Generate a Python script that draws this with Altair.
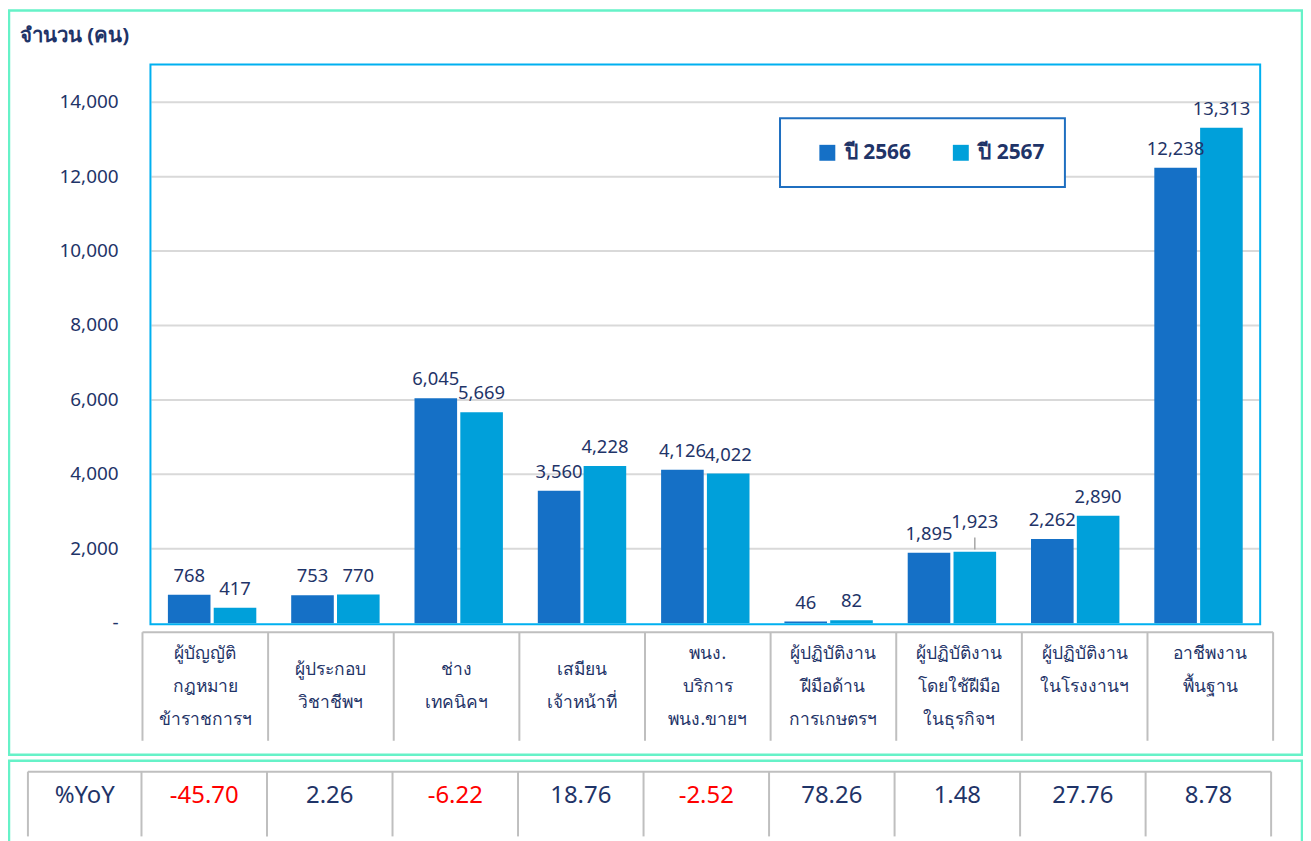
import altair as alt
import pandas as pd

# ---------------- data ----------------
categories = [
    "ผู้บัญญัติ\nกฎหมาย\nข้าราชการฯ",
    "ผู้ประกอบ\nวิชาชีพฯ",
    "ช่าง\nเทคนิคฯ",
    "เสมียน\nเจ้าหน้าที่",
    "พนง.\nบริการ\nพนง.ขายฯ",
    "ผู้ปฏิบัติงาน\nฝีมือด้าน\nการเกษตรฯ",
    "ผู้ปฏิบัติงาน\nโดยใช้ฝีมือ\nในธุรกิจฯ",
    "ผู้ปฏิบัติงาน\nในโรงงานฯ\n",
    "อาชีพงาน\nพื้นฐาน\n",
]
years = ["ปี 2566", "ปี 2567"]
values_2566 = [768, 753, 6045, 3560, 4126, 46, 1895, 2262, 12238]
values_2567 = [417, 770, 5669, 4228, 4022, 82, 1923, 2890, 13313]
yoy_pct = [-45.70, 2.26, -6.22, 18.76, -2.52, 78.26, 1.48, 27.76, 8.78]
y_ticks = [0, 2000, 4000, 6000, 8000, 10000, 12000, 14000]
title_text = "จำนวน (คน)"
yoy_header = "%YoY"

# ---------------- style / layout ----------------
NAVY = "#1f3468"
C2566 = "#1570c6"
C2567 = "#00a0da"
GREEN = "#66f2c8"
FRAME_BLUE = "#00b0f0"
LEGEND_BLUE = "#1f6fc0"
GRID = "#d9d9d9"
TABLE = "#bfbfbf"
RED = "#ff0000"
FONT = "Tahoma, 'Noto Sans', 'DejaVu Sans', sans-serif"

W, H = 1300, 833
PLOT_L, PLOT_R, PLOT_T, PLOT_B = 143, 1257, 55, 617
Y_RANGE = [616, 55.6]
TAB_L, TAB_R, TAB_T, TAB_B = 135, 1270, 625, 734
YOY_L, YOY_T, YOY_B = 20, 765, 830
LIFT = (6, 1)  # label moved up with a leader line (category index, year index)

rows = []
for i, c in enumerate(categories):
    rows.append({"i": i, "cat": c, "year": years[0], "value": values_2566[i]})
    rows.append({"i": i, "cat": c, "year": years[1], "value": values_2567[i]})
bars_df = pd.DataFrame(rows)
cat_df = pd.DataFrame({"i": list(range(len(categories))), "cat": categories, "yoy": yoy_pct})
tick_df = pd.DataFrame({"v": y_ticks})
one = pd.DataFrame({"k": [0]})

yscale = alt.Scale(domain=[0, 15000], range=Y_RANGE, nice=False, zero=True)


def box(x1, x2, y1, y2, color, width, fill_opacity=0, fill="white"):
    return alt.Chart(one).mark_rect(
        fill=fill, fillOpacity=fill_opacity, stroke=color, strokeWidth=width
    ).encode(x=alt.value(x1), x2=alt.value(x2), y=alt.value(y1), y2=alt.value(y2))


def hline(x1, x2, y, color, width):
    return alt.Chart(one).mark_rule(color=color, strokeWidth=width).encode(
        x=alt.value(x1), x2=alt.value(x2), y=alt.value(y)
    )


# frames
frame1 = box(1, W - 1, 1, 748, GREEN, 2.5)
frame2 = box(1, W - 1, 754, 900, GREEN, 2.5)
plot_frame = box(PLOT_L, PLOT_R, PLOT_T, PLOT_B, FRAME_BLUE, 2)

# gridlines
grid = alt.Chart(tick_df).transform_filter("datum.v > 0").mark_rule(
    color=GRID, strokeWidth=2
).encode(
    y=alt.Y("v:Q", scale=yscale, axis=None),
    x=alt.value(PLOT_L + 1),
    x2=alt.value(PLOT_R - 1),
)

# y labels
ylabels = alt.Chart(tick_df).transform_calculate(
    lbl="datum.v == 0 ? '-' : format(datum.v, ',')"
).mark_text(
    align="right", baseline="middle", font=FONT, fontSize=19, color=NAVY
).encode(
    x=alt.value(111), y=alt.Y("v:Q", scale=yscale, axis=None), text="lbl:N"
)

title = alt.Chart(one).mark_text(
    text=title_text, align="left", baseline="middle", font=FONT,
    fontSize=20.5, fontWeight="bold", color=NAVY,
).encode(x=alt.value(12), y=alt.value(27))

# bars
xb = alt.X(
    "cat:N", sort=categories, axis=None,
    scale=alt.Scale(domain=categories, range=[PLOT_L, PLOT_R],
                    paddingInner=0.283, paddingOuter=0.1415),
)
xo = alt.XOffset("year:N", sort=years,
                 scale=alt.Scale(domain=years, paddingInner=0.07, paddingOuter=0))
yb = alt.Y("value:Q", scale=yscale, axis=None)

base = alt.Chart(bars_df)
bars = base.mark_bar().encode(
    x=xb, xOffset=xo, y=yb,
    color=alt.Color(
        "year:N", sort=years,
        scale=alt.Scale(domain=years, range=[C2566, C2567]),
        legend=alt.Legend(
            orient="none", legendX=812, legendY=133, direction="horizontal",
            title=None, symbolType="square", symbolSize=256, symbolStrokeWidth=0,
            labelFont=FONT, labelFontSize=21, labelFontWeight="bold",
            labelColor=NAVY, labelOffset=7, columnPadding=39, padding=0,
        ),
    ),
)
lift_expr = f"datum.i == {LIFT[0]} && datum.year == '{years[LIFT[1]]}'"
labels = base.transform_filter(f"!({lift_expr})").mark_text(
    dy=-19, baseline="middle", font=FONT, fontSize=18.5, color=NAVY
).encode(x=xb, xOffset=xo, y=yb, text=alt.Text("value:Q", format=","))
lifted = base.transform_filter(lift_expr).mark_text(
    dy=-30, baseline="middle", font=FONT, fontSize=18.5, color=NAVY
).encode(x=xb, xOffset=xo, y=yb, text=alt.Text("value:Q", format=","))
leader = base.transform_filter(lift_expr).transform_calculate(
    ly1="datum.value + 60", ly2="datum.value + 380"
).mark_rule(color="#a6a6a6", strokeWidth=1.5).encode(
    x=xb, xOffset=xo,
    y=alt.Y("ly1:Q", scale=yscale, axis=None), y2="ly2:Q",
)
bar_group = alt.layer(bars, labels, lifted, leader)

legend_box = box(775, 1061, 109, 178, LEGEND_BLUE, 2, fill_opacity=1)

# category table
def xt(pos):
    return alt.X(
        "cat:N", sort=categories, axis=None, bandPosition=pos,
        scale=alt.Scale(domain=categories, range=[TAB_L, TAB_R],
                        paddingInner=0, paddingOuter=0),
    )

tab_top = hline(TAB_L, TAB_R, TAB_T, TABLE, 2)
tab_v = alt.Chart(cat_df).mark_rule(color=TABLE, strokeWidth=2).encode(
    x=xt(0), y=alt.value(TAB_T), y2=alt.value(TAB_B)
)
tab_v_end = alt.Chart(cat_df).transform_filter(f"datum.i == {len(categories)-1}").mark_rule(
    color=TABLE, strokeWidth=2
).encode(x=xt(1), y=alt.value(TAB_T), y2=alt.value(TAB_B))


def tab_text(n_lines, y_first):
    return alt.Chart(cat_df).transform_calculate(
        n="split(datum.cat, '\\n').length"
    ).transform_filter(f"datum.n == {n_lines}").mark_text(
        lineBreak="\n", lineHeight=33, baseline="middle", font=FONT,
        fontSize=17.5, color=NAVY,
    ).encode(x=xt(0.5), y=alt.value(y_first), text="cat:N")


tab_text3 = tab_text(3, 647)
tab_text2 = tab_text(2, 663)

# yoy table
def xy(pos):
    return alt.X(
        "cat:N", sort=categories, axis=None, bandPosition=pos,
        scale=alt.Scale(domain=categories, range=[TAB_L - 1, TAB_R - 2],
                        paddingInner=0, paddingOuter=0),
    )

yoy_top = hline(YOY_L, TAB_R - 2, YOY_T, TABLE, 2)
yoy_left = alt.Chart(one).mark_rule(color=TABLE, strokeWidth=2).encode(
    x=alt.value(YOY_L), y=alt.value(YOY_T), y2=alt.value(YOY_B)
)
yoy_v = alt.Chart(cat_df).mark_rule(color=TABLE, strokeWidth=2).encode(
    x=xy(0), y=alt.value(YOY_T), y2=alt.value(YOY_B)
)
yoy_v_end = alt.Chart(cat_df).transform_filter(f"datum.i == {len(categories)-1}").mark_rule(
    color=TABLE, strokeWidth=2
).encode(x=xy(1), y=alt.value(YOY_T), y2=alt.value(YOY_B))
yoy_head = alt.Chart(one).mark_text(
    text=yoy_header, baseline="middle", font=FONT, fontSize=24, color=NAVY
).encode(x=alt.value(77), y=alt.value(789))
yoy_text = alt.Chart(cat_df).transform_calculate(
    lbl="replace(format(datum.yoy, '.2f'), '\u2212', '-')"
).mark_text(
    baseline="middle", font=FONT, fontSize=24
).encode(
    x=xy(0.5), y=alt.value(789),
    text="lbl:N",
    color=alt.condition("datum.yoy < 0", alt.value(RED), alt.value(NAVY)),
)

chart = alt.layer(
    frame1, frame2, grid, ylabels, title, bar_group, plot_frame, legend_box,
    tab_top, tab_v, tab_v_end, tab_text3, tab_text2,
    yoy_top, yoy_left, yoy_v, yoy_v_end, yoy_head, yoy_text,
).resolve_scale(
    x="independent", y="independent", color="independent"
).properties(
    width=W, height=H, padding=0, autosize=alt.AutoSizeParams(type="none"),
    background="white",
).configure_view(stroke="transparent")

chart.save("out.html", embed_options={"renderer": "svg", "actions": False})
